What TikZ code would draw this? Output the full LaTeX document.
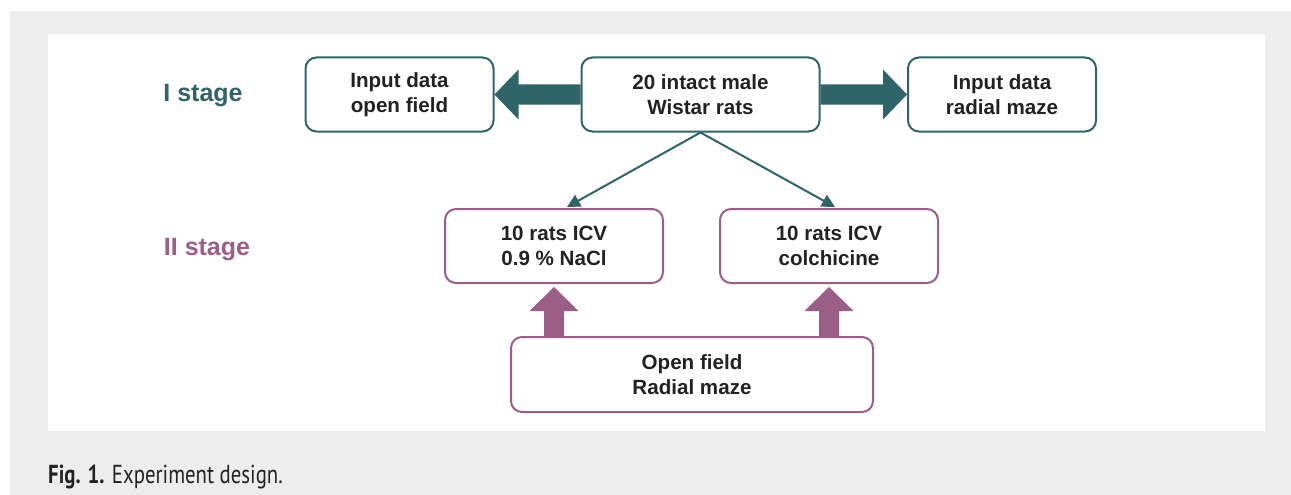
\documentclass[tikz,border=0pt]{standalone}
\usepackage{fontspec}
\setmainfont{Liberation Sans}
\newfontfamily\capfont[FakeStretch=0.8]{PT Sans}
\usetikzlibrary{calc,arrows.meta}
\definecolor{tealc}{HTML}{2F6469}
\definecolor{purp}{HTML}{9B5E87}
\definecolor{greybg}{HTML}{EDEDED}
\definecolor{txt}{HTML}{222222}
\tikzset{
  box/.style={draw, line width=2pt, rounded corners=11pt, fill=white, text=txt,
    font=\fontsize{20.6}{25}\selectfont\bfseries, align=center, inner sep=0pt},
  tbox/.style={box, draw=tealc},
  pbox/.style={box, draw=purp},
  stagelbl/.style={font=\fontsize{25}{30}\selectfont\bfseries, anchor=base, inner sep=0pt},
  thin/.style={draw=tealc, line width=2pt, -{Triangle[length=13pt,width=13pt]}},
}
\begin{document}
\begin{tikzpicture}[x=1pt,y=-1pt]
\useasboundingbox (0,0) rectangle (1291,495);
\fill[greybg] (10,11) rectangle (1291,495);
\fill[white] (48,34) rectangle (1265,431);
% stage I
\node[tbox, minimum width=188pt, minimum height=74pt] (l1) at (399.5,94.5) {Input data\\open field};
\node[tbox, minimum width=238pt, minimum height=74pt] (c) at (700.5,94.5) {20 intact male\\Wistar rats};
\node[tbox, minimum width=188pt, minimum height=74pt] (r1) at (1002,94.5) {Input data\\radial maze};
\node[stagelbl, text=tealc] (s1) at (203,102) {I stage};
% stage II
\node[pbox, minimum width=218pt, minimum height=74pt] (nacl) at (554,246) {10 rats ICV\\0.9 \% NaCl};
\node[pbox, minimum width=218pt, minimum height=74pt] (colch) at (829,246) {10 rats ICV\\colchicine};
\node[pbox, minimum width=362pt, minimum height=75pt] (b) at (692,374.5) {Open field\\Radial maze};
\node[stagelbl, text=purp] (s2) at (207,255) {II stage};
% thick arrows stage I
\fill[tealc] ($(c.west)+(0,-10)$) -- ($(l1.east)+(24,-10)$) -- ($(l1.east)+(24,-25)$) -- (l1.east)
  -- ($(l1.east)+(24,25)$) -- ($(l1.east)+(24,10)$) -- ($(c.west)+(0,10)$) -- cycle;
\fill[tealc] ($(c.east)+(0,-10)$) -- ($(r1.west)+(-24,-10)$) -- ($(r1.west)+(-24,-25)$) -- (r1.west)
  -- ($(r1.west)+(-24,25)$) -- ($(r1.west)+(-24,10)$) -- ($(c.east)+(0,10)$) -- cycle;
% thick arrows stage II
\fill[purp] ($(nacl.south |- b.north)+(-10,0)$) -- ($(nacl.south)+(-10,27)$) -- ($(nacl.south)+(-24.5,27)$)
  -- ($(nacl.south)+(0,3)$) -- ($(nacl.south)+(24.5,27)$) -- ($(nacl.south)+(10,27)$)
  -- ($(nacl.south |- b.north)+(10,0)$) -- cycle;
\fill[purp] ($(colch.south |- b.north)+(-10,0)$) -- ($(colch.south)+(-10,27)$) -- ($(colch.south)+(-24.5,27)$)
  -- ($(colch.south)+(0,3)$) -- ($(colch.south)+(24.5,27)$) -- ($(colch.south)+(10,27)$)
  -- ($(colch.south |- b.north)+(10,0)$) -- cycle;
% thin connectors
\coordinate (tn) at ($(nacl.north)+(13,-1)$);
\coordinate (tc) at ($(colch.north)+(6,-1)$);
\draw[thin] (c.south) -- (tn);
\draw[thin] (c.south) -- (tc);
% caption
\node[anchor=base west, inner sep=0pt, text=txt, font=\capfont\fontsize{26}{30}\selectfont] (cap) at (48,483) {\textbf{Fig. 1.} Experiment design.};
\end{tikzpicture}
\end{document}
